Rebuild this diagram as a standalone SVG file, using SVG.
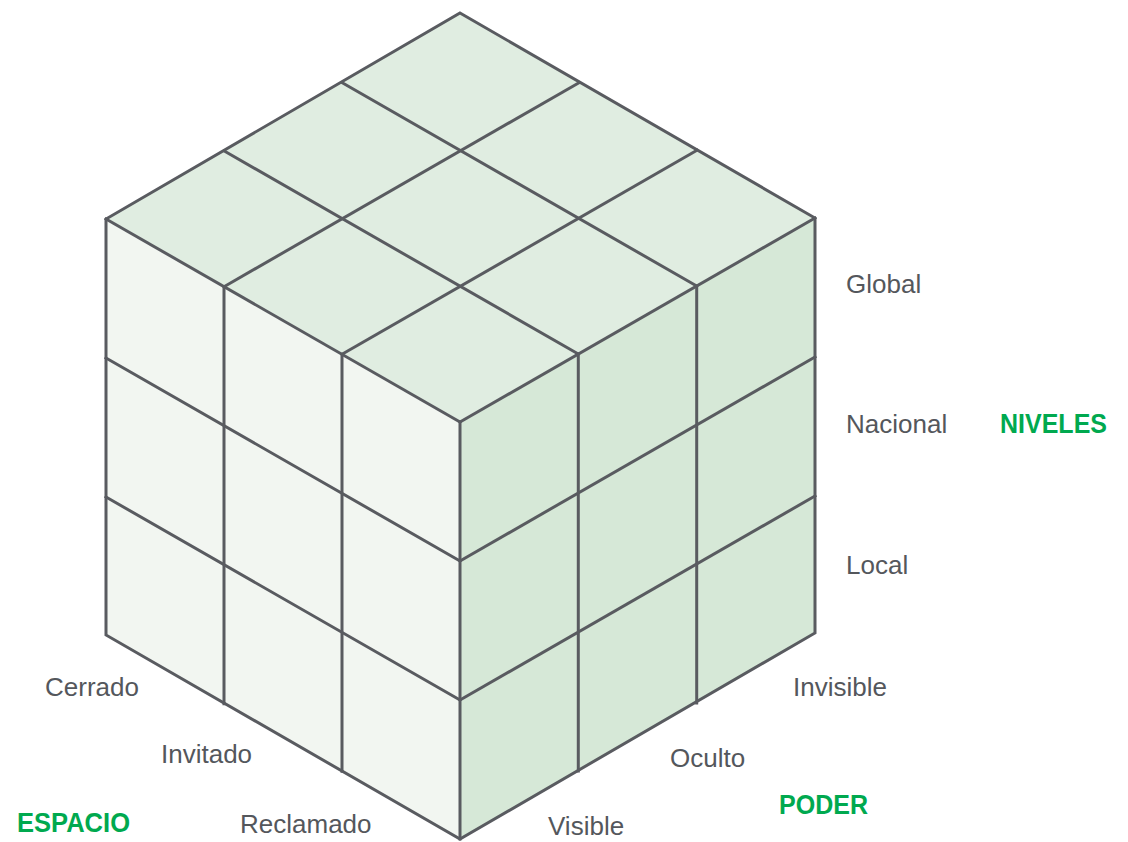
<svg xmlns="http://www.w3.org/2000/svg" width="1128" height="842" viewBox="0 0 1128 842">
<style>
.grid{stroke:#595b60;stroke-width:3;fill:none;stroke-linejoin:miter;stroke-linecap:square}
.lbl{font-family:"Liberation Sans",Arial,sans-serif;font-size:26px;fill:#54575c}
.ttl{font-family:"Liberation Sans",Arial,sans-serif;font-size:27px;font-weight:bold;fill:#00a94f}
</style>
<rect width="1128" height="842" fill="#ffffff"/>
<g id="cube">
<g id="face-top"><polygon points="460,13 106,219 460,422 815,218" fill="#e0ede1"/></g>
<g id="face-left"><polygon points="106,219 460,422 460,839 106,635" fill="#f2f6f1"/></g>
<g id="face-right"><polygon points="460,422 815,218 815,633 460,839" fill="#d6e8d7"/></g>
</g>
<g id="connectors" class="grid">
<line x1="342" y1="354.3" x2="342" y2="771.3"/>
<line x1="224" y1="286.7" x2="224" y2="703.7"/>
<line x1="460" y1="561" x2="106" y2="358"/>
<line x1="460" y1="700" x2="106" y2="497"/>
<line x1="578.3" y1="354" x2="578.3" y2="771"/>
<line x1="696.7" y1="286" x2="696.7" y2="703"/>
<line x1="460" y1="561" x2="815" y2="357"/>
<line x1="460" y1="700" x2="815" y2="496"/>
<line x1="578.3" y1="354" x2="224.3" y2="151"/>
<line x1="696.7" y1="286" x2="342.7" y2="83"/>
<line x1="342" y1="354.3" x2="697" y2="150.3"/>
<line x1="224" y1="286.7" x2="579" y2="82.7"/>
<line x1="460" y1="422" x2="460" y2="839"/>
<line x1="460" y1="422" x2="106" y2="219"/>
<line x1="460" y1="422" x2="815" y2="218"/>
<polygon points="460,13 815,218 815,633 460,839 106,635 106,219"/>
</g>
<g id="labels-niveles">
<text class="lbl" x="846" y="293">Global</text>
<text class="lbl" x="846" y="433">Nacional</text>
<text class="lbl" x="846" y="574">Local</text>
<text class="ttl" x="1000" y="433" textLength="107" lengthAdjust="spacingAndGlyphs">NIVELES</text>
</g>
<g id="labels-poder">
<text class="lbl" x="793" y="696">Invisible</text>
<text class="lbl" x="670" y="767">Oculto</text>
<text class="lbl" x="548" y="835">Visible</text>
<text class="ttl" x="779" y="814" textLength="89" lengthAdjust="spacingAndGlyphs">PODER</text>
</g>
<g id="labels-espacio">
<text class="lbl" x="45" y="696">Cerrado</text>
<text class="lbl" x="161" y="763">Invitado</text>
<text class="lbl" x="240" y="833">Reclamado</text>
<text class="ttl" x="17" y="832" textLength="113" lengthAdjust="spacingAndGlyphs">ESPACIO</text>
</g>
</svg>
